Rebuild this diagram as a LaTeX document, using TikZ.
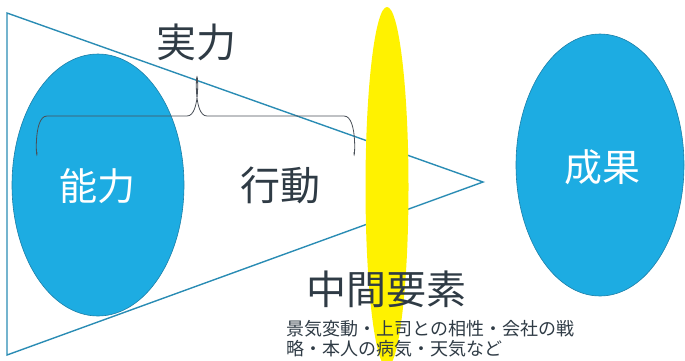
\documentclass[tikz,border=0pt]{standalone}
\usepackage{fontspec}
\setmainfont{Noto Sans CJK JP}
\usetikzlibrary{shapes.geometric}
\definecolor{blobblue}{HTML}{1DACE2}
\definecolor{blobedge}{HTML}{1B7FA8}
\definecolor{triline}{HTML}{2A8CB4}
\definecolor{txtdark}{HTML}{2F3B45}
\definecolor{bracegray}{HTML}{4A5058}
\begin{document}
\begin{tikzpicture}[x=1pt,y=-1pt,
  blob/.style={ellipse,draw=blobedge,line width=0.6pt,fill=blobblue,inner sep=0pt},
  lens/.style={ellipse,fill=yellow,draw=none,inner sep=0pt},
  bigtxt/.style={text=txtdark,font=\fontsize{40}{44}\selectfont,inner sep=0pt},
  whitetxt/.style={text=white,font=\fontsize{38}{42}\selectfont,inner sep=0pt},
  smalltxt/.style={text=txtdark,font=\fontsize{18}{21}\selectfont,inner sep=0pt,anchor=west},
  tri/.style={draw=triline,line width=1.4pt,line join=miter},
  bracestyle/.style={draw=bracegray,line width=0.8pt}]
\useasboundingbox (0,0) rectangle (685,360);
% triangle
\coordinate (tl) at (7,13);
\coordinate (bl) at (7,355);
\coordinate (apex) at (483,182);
\draw[tri] (tl) -- (apex) -- (bl) -- cycle;
% ellipses
\node[blob,minimum width=172pt,minimum height=262pt] (ability) at (98,185) {};
\node[blob,minimum width=168pt,minimum height=262pt] (result) at (600,165) {};
\node[lens,minimum width=43pt,minimum height=360pt] (lensnode) at (387,187) {};
% brace
\coordinate (bL) at (37,152);
\coordinate (bR) at (354,152);
\coordinate (bTip) at (197,80);
\draw[bracestyle] (bL) to[out=-90,in=180] (47,116) -- (187,116) to[out=0,in=90] (bTip)
  to[out=90,in=180] (207,116) -- (344,116) to[out=0,in=-90] (bR);
% texts
\node[bigtxt] (jitsu) at (196,42) {実力};
\node[whitetxt] (nouryoku) at (97,186) {能力};
\node[bigtxt] (koudou) at (280,185) {行動};
\node[whitetxt] (seika) at (602,167) {成果};
\node[bigtxt] (chukan) at (386,289) {中間要素};
\node[smalltxt] (line1) at (286,329) {景気変動・上司との相性・会社の戦};
\node[smalltxt] (line2) at (286,349) {略・本人の病気・天気など};
\end{tikzpicture}
\end{document}
